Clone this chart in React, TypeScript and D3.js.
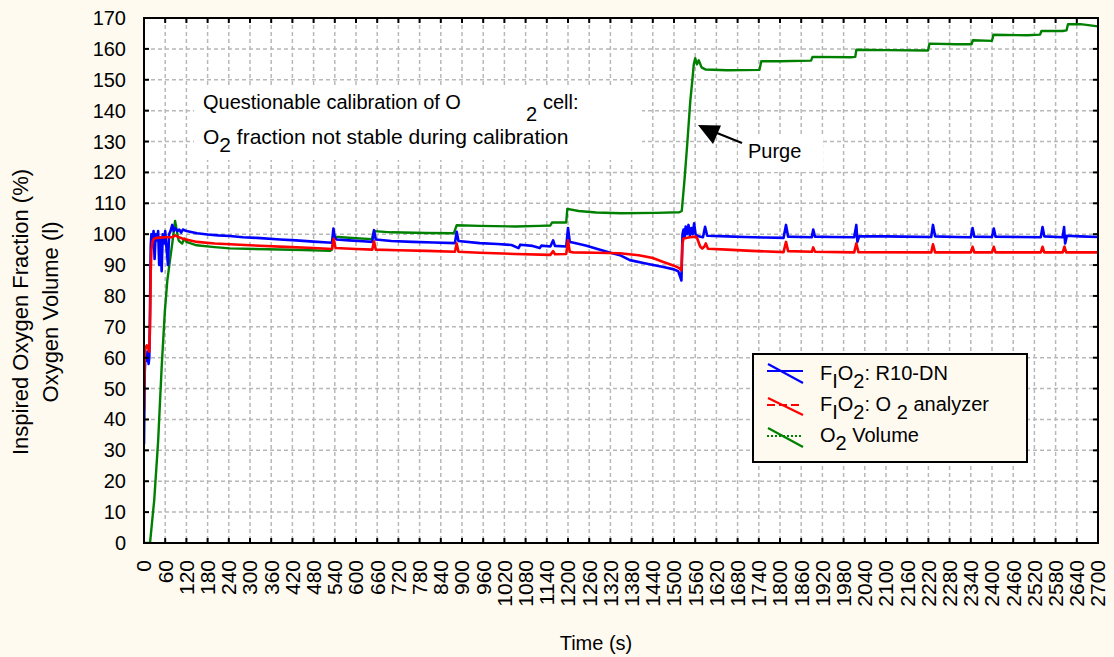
import React from "react";
import * as d3 from "d3";

// ---------- data (time in s, value) ----------
const r10dn: [number, number][] = [
  [0, 32], [2, 55], [4, 61], [7, 59], [10, 62], [13, 58], [15, 60], [17, 75], [19, 96], [21, 100],
  [24, 97], [27, 101], [30, 92], [33, 100], [36, 98], [40, 101], [43, 90], [46, 99], [50, 88],
  [53, 100], [57, 97], [60, 101], [64, 95], [68, 90], [71, 100], [75, 101], [80, 103], [84, 101],
  [88, 102], [95, 101], [100, 101.5], [105, 100.5], [110, 101.5], [120, 101], [130, 100.8],
  [150, 100.3], [180, 99.9], [210, 99.6], [243, 99.4], [280, 99], [320, 98.8], [385, 98.3],
  [430, 98], [480, 97.6], [520, 97.3], [532, 97.2], [536, 101.8], [540, 99], [545, 98.3],
  [580, 98], [620, 97.7], [646, 97.5], [651, 101.3], [656, 98.3], [700, 97.8], [760, 97.5],
  [820, 97.3], [880, 97.1], [885, 100.8], [890, 97.8], [950, 97.1], [1000, 96.8], [1040, 96.5],
  [1060, 95.5], [1065, 96.6], [1100, 96.2], [1120, 95.5], [1125, 96.3], [1150, 96], [1158, 98],
  [1163, 96.2], [1195, 96], [1200, 102], [1205, 97.5], [1213, 97.3], [1250, 96.3], [1281, 95.3],
  [1320, 94], [1347, 93.2], [1375, 91.6], [1420, 90.5], [1470, 89.4], [1500, 88.6], [1512, 88],
  [1518, 86], [1521, 85], [1524, 100], [1527, 101.5], [1530, 99], [1533, 102.5], [1537, 100],
  [1541, 103], [1545, 99.5], [1549, 102], [1553, 100], [1557, 103.5], [1561, 100], [1565, 99.5],
  [1575, 99.2], [1582, 99], [1588, 102.4], [1594, 99.5], [1650, 99.3], [1700, 99.1], [1760, 98.9],
  [1810, 98.8], [1817, 103], [1823, 99.2], [1860, 99.1], [1890, 99], [1894, 101.5], [1899, 99.2],
  [1950, 99.1], [2010, 99], [2016, 103], [2019, 97.5], [2024, 99.3], [2100, 99.3], [2150, 99.2],
  [2228, 99.1], [2233, 103], [2239, 99.3], [2300, 99.1], [2340, 99], [2345, 102], [2350, 99.2],
  [2400, 99.1], [2405, 101.8], [2410, 99.2], [2480, 99.1], [2538, 99], [2543, 102.3], [2548, 99.3],
  [2600, 99], [2604, 102.3], [2607, 97], [2612, 99.5], [2650, 99.3], [2700, 99.1],
];

const o2Analyzer: [number, number][] = [
  [0, 43], [2, 60], [4, 63], [8, 64], [12, 63], [15, 62], [17, 70], [19, 88], [21, 95], [24, 97.5],
  [28, 98.5], [35, 98.8], [60, 99], [80, 99], [88, 99.6], [95, 99.2], [110, 98.5], [150, 97.5],
  [200, 97], [300, 96.4], [400, 95.9], [480, 95.5], [532, 95.2], [537, 98.5], [542, 95.5],
  [600, 95.2], [646, 95], [651, 97.7], [656, 95], [720, 94.8], [800, 94.6], [880, 94.3], [885, 97],
  [890, 94.3], [950, 94], [1050, 93.6], [1150, 93.3], [1158, 94.5], [1163, 93.5], [1195, 93.6],
  [1200, 98], [1205, 94.3], [1215, 94.1], [1280, 94], [1347, 93.8], [1400, 93.2], [1440, 92.3],
  [1470, 91], [1500, 89.8], [1515, 89], [1521, 88.3], [1524, 97], [1527, 98.6], [1545, 99],
  [1562, 99.2], [1566, 98.5], [1574, 96], [1580, 95.3], [1586, 96], [1590, 97], [1596, 95.3],
  [1650, 95], [1720, 94.6], [1810, 94.2], [1817, 97.5], [1823, 94.5], [1890, 94.3], [1894, 95.7],
  [1899, 94.3], [2010, 94.1], [2016, 97], [2022, 94.2], [2228, 94.1], [2233, 96.7], [2239, 94.1],
  [2340, 94.1], [2345, 95.9], [2350, 94.1], [2400, 94.1], [2405, 95.9], [2410, 94.1], [2538, 94.1],
  [2543, 95.9], [2548, 94.1], [2600, 94.1], [2605, 96], [2610, 94.1], [2700, 94.1],
];

const o2Volume: [number, number][] = [
  [0, 0], [17, 0], [29, 14], [40, 33], [50, 57], [59, 75], [66, 85], [74, 92], [80, 97], [88, 104.3],
  [93, 101], [98, 98], [102, 97.5], [108, 97], [114, 98.6], [120, 97.5], [149, 96.4], [200, 95.8],
  [243, 95.4], [350, 95.1], [450, 94.9], [527, 94.6], [532, 95], [536, 98.8], [540, 99.2],
  [560, 99], [600, 98.7], [645, 98.4], [651, 101], [700, 100.6], [800, 100.4], [877, 100.3],
  [885, 102.9], [950, 102.7], [1050, 102.5], [1120, 102.7], [1150, 102.8], [1155, 103.8],
  [1195, 103.8], [1198, 108.2], [1230, 107.5], [1280, 107], [1350, 106.8], [1450, 106.9],
  [1515, 107.1], [1522, 107.5], [1530, 118], [1538, 130], [1546, 143], [1552, 150], [1556, 155],
  [1560, 157], [1565, 155], [1570, 156.3], [1578, 154], [1590, 153.3], [1650, 153.1],
  [1742, 153.2], [1747, 156], [1800, 156], [1888, 156.2], [1892, 157.4], [2000, 157.3],
  [2013, 157.4], [2016, 159.7], [2100, 159.6], [2219, 159.5], [2223, 161.7], [2300, 161.5],
  [2342, 161.5], [2346, 162.8], [2400, 162.6], [2404, 164.6], [2500, 164.4], [2536, 164.6],
  [2540, 165.8], [2600, 165.8], [2611, 166], [2615, 168], [2650, 168], [2700, 167.3],
];

const xTickValues = d3.range(0, 2701, 60);
const yTickValues = d3.range(0, 171, 10);

const BG = "#FFFAF0";
const FONT = "'Liberation Sans', Arial, sans-serif";

export default function App() {
  const L = 144, R = 1098, T = 18, B = 543;
  const x = d3.scaleLinear().domain([0, 2700]).range([L, R]);
  const y = d3.scaleLinear().domain([0, 170]).range([B, T]);
  const line = d3
    .line<[number, number]>()
    .x((d) => x(d[0]))
    .y((d) => y(d[1]));

  const sub = 8;

  return (
    <div style={{ position: "fixed", left: 0, top: 0 }}>
      <svg width={1114} height={657} style={{ display: "block", fontFamily: FONT }}>
        <defs>
          <clipPath id="plotclip">
            <rect x={L} y={T} width={R - L} height={B - T} />
          </clipPath>
        </defs>
        <rect x={0} y={0} width={1114} height={657} fill={BG} />
        <rect x={L} y={T} width={R - L} height={B - T} fill="#ffffff" />

        {/* grid */}
        <g stroke="#b8b8b8" strokeWidth={1.5} strokeDasharray="4,3">
          {xTickValues.slice(1, -1).map((t) => (
            <line key={"gx" + t} x1={x(t)} x2={x(t)} y1={T} y2={B} />
          ))}
          {yTickValues.slice(1, -1).map((v) => (
            <line key={"gy" + v} x1={L} x2={R} y1={y(v)} y2={y(v)} />
          ))}
        </g>

        {/* annotation boxes */}
        <rect x={194} y={85} width={448} height={75} fill="#ffffff" />
        <rect x={738} y={135} width={85} height={37} fill="#ffffff" />

        {/* series */}
        <g clipPath="url(#plotclip)" fill="none" strokeLinejoin="round">
          <path d={line(o2Volume) || ""} stroke="#008000" strokeWidth={2.4} />
          <path d={line(r10dn) || ""} stroke="#0000ff" strokeWidth={2.6} />
          <path d={line(o2Analyzer) || ""} stroke="#ff0000" strokeWidth={2.6} />
        </g>

        {/* frame & ticks */}
        <rect x={L} y={T} width={R - L} height={B - T} fill="none" stroke="#000" strokeWidth={2} />
        <g stroke="#000" strokeWidth={2}>
          {xTickValues.map((t) => (
            <g key={"tx" + t}>
              <line x1={x(t)} x2={x(t)} y1={B} y2={B - 5} />
              <line x1={x(t)} x2={x(t)} y1={T} y2={T + 5} />
            </g>
          ))}
          {yTickValues.map((v) => (
            <g key={"ty" + v}>
              <line x1={L} x2={L + 5} y1={y(v)} y2={y(v)} />
              <line x1={R} x2={R - 5} y1={y(v)} y2={y(v)} />
            </g>
          ))}
        </g>

        {/* tick labels */}
        <g fontSize={20} fill="#000">
          {yTickValues.map((v) => (
            <text key={"ly" + v} x={126} y={y(v)} dy="0.35em" textAnchor="end">
              {v}
            </text>
          ))}
          {xTickValues.map((t) => (
            <text
              key={"lx" + t}
              transform={`translate(${x(t)},${560}) rotate(-90)`}
              dy="0.35em"
              textAnchor="end"
              fontSize={21}
            >
              {t}
            </text>
          ))}
        </g>

        {/* axis titles */}
        <g fill="#000" textAnchor="middle">
          <text x={596} y={650} fontSize={20}>Time (s)</text>
          <text transform="translate(28,312) rotate(-90)" fontSize={22}>Inspired Oxygen Fraction (%)</text>
          <text transform="translate(58,312) rotate(-90)" fontSize={22}>Oxygen Volume (l)</text>
        </g>

        {/* annotations */}
        <g fontSize={20} fill="#000">
          <text x={203} y={109}>Questionable calibration of O</text>
          <text x={526} y={121}>2</text>
          <text x={543} y={109}>cell:</text>
          <text x={203} y={144} fontSize={21}>
            O<tspan dy={sub}>2</tspan>
            <tspan dy={-sub}> fraction not stable during calibration</tspan>
          </text>
          <text x={748} y={158}>Purge</text>
        </g>
        <line x1={742} y1={143} x2={712} y2={131} stroke="#000" strokeWidth={2.2} />
        <polygon points="698,125 721,125.5 713,144" fill="#000" />

        {/* legend */}
        <rect x={753} y={354} width={274} height={108} fill={BG} stroke="#000" strokeWidth={2} />
        <g strokeWidth={2.2}>
          <line x1={767} x2={803} y1={371} y2={371} stroke="#0000ff" />
          <line x1={768} x2={803} y1={364} y2={383} stroke="#0000ff" />
          <line x1={767} x2={803} y1={405} y2={405} stroke="#ff0000" strokeDasharray="8,4" />
          <line x1={768} x2={803} y1={398} y2={415} stroke="#ff0000" />
          <line x1={767} x2={803} y1={436} y2={436} stroke="#008000" strokeDasharray="2,2" />
          <line x1={768} x2={803} y1={428} y2={447} stroke="#008000" />
        </g>
        <g fontSize={20} fill="#000">
          <text x={820} y={380}>
            F<tspan dy={sub}>I</tspan>
            <tspan dy={-sub}>O</tspan>
            <tspan dy={sub}>2</tspan>
            <tspan dy={-sub}>: R10-DN</tspan>
          </text>
          <text x={820} y={411}>
            F<tspan dy={sub}>I</tspan>
            <tspan dy={-sub}>O</tspan>
            <tspan dy={sub}>2</tspan>
            <tspan dy={-sub}>: O </tspan>
            <tspan dy={sub}>2</tspan>
            <tspan dy={-sub}> analyzer</tspan>
          </text>
          <text x={820} y={442}>
            O<tspan dy={sub}>2</tspan>
            <tspan dy={-sub}> Volume</tspan>
          </text>
        </g>
      </svg>
    </div>
  );
}
